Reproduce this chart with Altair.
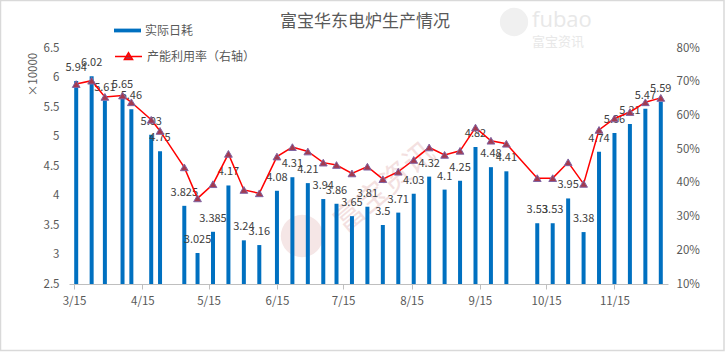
import altair as alt
import pandas as pd

# ---- data ----
dates = ["2019-03-16", "2019-03-23", "2019-03-29", "2019-04-06", "2019-04-10",
         "2019-04-19", "2019-04-23", "2019-05-04", "2019-05-10", "2019-05-17",
         "2019-05-24", "2019-05-31", "2019-06-07", "2019-06-15", "2019-06-22",
         "2019-06-29", "2019-07-06", "2019-07-12", "2019-07-19", "2019-07-26",
         "2019-08-02", "2019-08-09", "2019-08-16", "2019-08-23", "2019-08-30",
         "2019-09-06", "2019-09-13", "2019-09-20", "2019-09-27", "2019-10-11",
         "2019-10-18", "2019-10-25", "2019-11-01", "2019-11-08", "2019-11-15",
         "2019-11-22", "2019-11-29", "2019-12-06"]
daily_use = [5.94, 6.02, 5.61, 5.65, 5.46, 5.03, 4.75, 3.825, 3.025, 3.385,
             4.17, 3.24, 3.16, 4.08, 4.31, 4.21, 3.94, 3.86, 3.65, 3.81,
             3.5, 3.71, 4.03, 4.32, 4.1, 4.25, 4.82, 4.48, 4.41, 3.53,
             3.53, 3.95, 3.38, 4.74, 5.06, 5.21, 5.47, 5.59]
util_rate = [69.3, 70.3, 65.5, 65.9, 63.9, 58.7, 55.4, 44.6, 35.4, 39.6,
             48.6, 37.9, 36.9, 47.8, 50.6, 49.3, 46.0, 45.3, 42.8, 44.8,
             41.1, 43.3, 46.8, 50.5, 48.3, 49.5, 56.4, 52.5, 51.6, 41.4,
             41.4, 46.1, 39.7, 55.7, 59.1, 61.0, 63.9, 65.2]
bar_labels = [str(v) for v in daily_use]
tick_months = [3, 4, 5, 6, 7, 8, 9, 10, 11]
left_ticks = [2.5, 3, 3.5, 4, 4.5, 5, 5.5, 6, 6.5]
right_ticks = [10, 20, 30, 40, 50, 60, 70, 80]
bar_name = "实际日耗"
line_name = "产能利用率（右轴）"
title_text = "富宝华东电炉生产情况"

FONT = "Noto Sans CJK SC"
GRAY = "#595959"

df = pd.DataFrame({
    "date": dates,
    "use": daily_use,
    "rate": util_rate,
    "label": bar_labels,
    "s_bar": bar_name,
    "s_line": line_name,
})
one = pd.DataFrame({"k": [0]})

W, H = 599, 236

x_enc = alt.X(
    "date:T",
    title=None,
    scale=alt.Scale(
        type="utc",
        domain=[alt.DateTime(year=2019, month=3, date=15, utc=True),
                alt.DateTime(year=2019, month=12, date=7, utc=True)],
    ),
    axis=alt.Axis(
        values=[alt.DateTime(year=2019, month=m, date=15, utc=True) for m in tick_months],
        format="%-m/%-d",
        labelFontSize=11.5,
        labelOverlap=False,
        tickSize=5,
        labelPadding=6,
        domainColor="#BFBFBF",
        tickColor="#BFBFBF",
        labelColor=GRAY,
        grid=False,
    ),
)

left_scale = alt.Scale(domain=[2.5, 6.5], zero=False, nice=False)
left_axis = alt.Axis(
    values=left_ticks,
    orient="left",
    domain=False,
    ticks=False,
    grid=False,
    labelOverlap=False,
    labelPadding=10,
    labelFontSize=11.5,
    labelColor=GRAY,
    labelExpr="datum.value + ''",
    title="×10000",
    titleAngle=270,
    titleFontSize=11.5,
    titleFontWeight="normal",
    titleColor=GRAY,
    titleX=-36,
    titleY=26,
    titleAlign="center",
    titleBaseline="middle",
)
right_scale = alt.Scale(domain=[10, 80], zero=False, nice=False)
right_axis = alt.Axis(
    values=right_ticks,
    orient="right",
    domain=False,
    ticks=False,
    grid=False,
    labelOverlap=False,
    labelPadding=8,
    labelFontSize=11.5,
    labelColor=GRAY,
    labelExpr="datum.value + '%'",
    title=None,
)

base = alt.Chart(df)

bars = base.mark_bar(size=4).encode(
    x=x_enc,
    y=alt.Y("use:Q", scale=left_scale, axis=left_axis),
    y2=alt.datum(2.5),
    color=alt.Color(
        "s_bar:N",
        scale=alt.Scale(domain=[bar_name], range=["#0070C0"]),
        legend=alt.Legend(
            title=None,
            orient="none",
            legendX=45,
            legendY=-31,
            symbolType="M-1,-0.14H1V0.14H-1Z",
            symbolSize=729,
            symbolStrokeWidth=0,
            labelFont=FONT,
            labelFontSize=12,
            labelColor=GRAY,
            labelOffset=4,
        ),
    ),
)

labels = base.mark_text(dy=-13, fontSize=11, color="#404040", font=FONT).encode(
    x=x_enc,
    y=alt.Y("use:Q", scale=left_scale, axis=left_axis),
    text="label:N",
)

line = base.mark_line(strokeWidth=1.5).encode(
    x=x_enc,
    y=alt.Y("rate:Q", scale=right_scale, axis=right_axis),
    stroke=alt.Stroke(
        "s_line:N",
        scale=alt.Scale(domain=[line_name], range=["#FF0000"]),
        legend=alt.Legend(
            title=None,
            orient="none",
            legendX=45,
            legendY=-6,
            symbolType="M-1,0H1M-0.3,0.22L0,-0.28L0.3,0.22Z",
            symbolSize=729,
            symbolFillColor="#A33A4F",
            symbolStrokeWidth=1.5,
            labelFont=FONT,
            labelFontSize=12,
            labelColor=GRAY,
            labelOffset=4,
        ),
    ),
)

points = base.mark_point(
    shape="triangle-up", filled=True, size=60, fill="#A33A4F",
    stroke="#8064A2", strokeWidth=1, opacity=1,
).encode(
    x=x_enc,
    y=alt.Y("rate:Q", scale=right_scale, axis=right_axis),
)

# ---- decoration: frame, title, watermarks ----
frame = alt.Chart(one).mark_rect(fillOpacity=0, stroke="#D9D9D9", strokeWidth=1.5).encode(
    x=alt.value(-68.5), x2=alt.value(W + 56), y=alt.value(-47.5), y2=alt.value(H + 66.5)
)
title = alt.Chart(one).mark_text(
    text=title_text, font=FONT, fontSize=17, color=GRAY, align="center", baseline="middle"
).encode(x=alt.value(296), y=alt.value(-26))

wm_logo = alt.Chart(one).mark_point(
    shape="circle", filled=True, size=800, color="#F0F0F0", opacity=1
).encode(x=alt.value(445), y=alt.value(-26))
wm_en = alt.Chart(one).mark_text(
    text="fubao", font="Open Sans", fontSize=22, color="#E8E8E8", align="left", baseline="middle"
).encode(x=alt.value(463), y=alt.value(-28))
wm_cn = alt.Chart(one).mark_text(
    text="富宝资讯", font=FONT, fontSize=13, color="#E8E8E8", align="left", baseline="middle"
).encode(x=alt.value(463), y=alt.value(-6))

wm2_logo = alt.Chart(one).mark_point(
    shape="circle", filled=True, size=1800, color="#F5E6E6", opacity=1
).encode(x=alt.value(233), y=alt.value(188))
wm2_cn = alt.Chart(one).mark_text(
    text="富宝资讯", font=FONT, fontSize=30, color="#F3E0E0", angle=320,
    align="center", baseline="middle"
).encode(x=alt.value(316), y=alt.value(140))

left = alt.layer(bars, labels)
right = alt.layer(line, points)

chart = alt.layer(
    frame, title, wm_logo, wm_en, wm_cn, wm2_logo, wm2_cn, left, right
).resolve_scale(
    y="independent"
).properties(
    width=W,
    height=H,
    padding={"left": 69, "top": 48, "right": 58, "bottom": 68},
    autosize=alt.AutoSizeParams(type="none"),
    background="white",
).configure_view(
    stroke=None
).configure_axis(
    labelFont=FONT,
    titleFont=FONT,
    labelOverlap=False,
)

chart.save("out.html", embed_options={"renderer": "svg", "actions": False})
